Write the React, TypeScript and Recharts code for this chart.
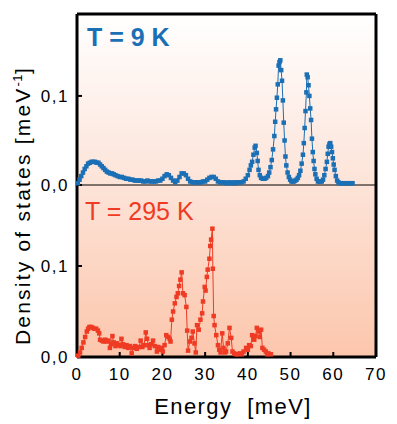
import React from 'react';
import { LineChart, Line, XAxis, YAxis, Label } from 'recharts';

// ---- Data ----
const energy9K = [
  0.2, 0.6, 1.0, 1.4, 1.8, 2.2, 2.6, 3.0, 3.4, 3.8, 4.2, 4.6, 5.0, 5.4, 5.8, 6.2, 6.6, 7.0, 7.4, 7.8,
  8.2, 8.6, 9.0, 9.5, 10.0, 10.5, 11.0, 11.5, 12.0, 12.5, 13.0, 13.5, 14.0, 14.5, 15.0, 15.5, 16.0,
  16.5, 17.0, 17.5, 18.0, 18.5, 19.0, 19.5, 20.0, 20.5, 21.0, 21.5, 22.0, 22.5, 23.0, 23.5, 24.0,
  24.5, 25.0, 25.5, 26.0, 26.5, 27.0, 27.5, 28.0, 28.5, 29.0, 29.5, 30.0, 30.5, 31.0, 31.5, 32.0,
  32.5, 33.0, 33.5, 34.0, 34.5, 35.0, 35.5, 36.0, 36.5, 37.0, 37.5, 38.0, 38.5, 39.0, 39.5, 40.0,
  40.4, 40.7, 41.0, 41.3, 41.6, 41.8, 42.1, 42.3, 42.5, 42.8, 43.1, 43.5, 43.9, 44.3, 44.7, 45.0,
  45.3, 45.6, 45.9, 46.2, 46.4, 46.6, 46.8, 47.0, 47.2, 47.4, 47.6, 47.8, 48.0, 48.2, 48.4, 48.6,
  48.8, 49.0, 49.3, 49.6, 49.9, 50.2, 50.5, 50.8, 51.1, 51.4, 51.7, 52.0, 52.3, 52.6, 52.9, 53.1,
  53.3, 53.5, 53.7, 53.8, 54.0, 54.2, 54.4, 54.6, 54.8, 55.0, 55.2, 55.4, 55.6, 55.8, 56.1, 56.4,
  56.7, 57.0, 57.3, 57.6, 57.9, 58.2, 58.5, 58.7, 58.9, 59.1, 59.3, 59.5, 59.7, 59.9, 60.1, 60.3,
  60.6, 60.9, 61.2, 61.6, 62.0, 62.5, 63.0, 63.5, 64.0, 64.5,
];
const dos9K = [
  0.002, 0.006, 0.010, 0.014, 0.018, 0.021, 0.024, 0.025, 0.026, 0.026, 0.026, 0.025, 0.025, 0.023,
  0.021, 0.019, 0.017, 0.015, 0.014, 0.013, 0.013, 0.012, 0.011, 0.010, 0.009, 0.009, 0.008, 0.007,
  0.007, 0.006, 0.006, 0.005, 0.005, 0.005, 0.005, 0.004, 0.004, 0.005, 0.004, 0.004, 0.004, 0.004,
  0.005, 0.005, 0.007, 0.010, 0.012, 0.011, 0.008, 0.005, 0.003, 0.005, 0.009, 0.013, 0.013, 0.011,
  0.007, 0.004, 0.003, 0.003, 0.003, 0.003, 0.003, 0.004, 0.004, 0.006, 0.008, 0.009, 0.009, 0.007,
  0.004, 0.003, 0.003, 0.003, 0.002, 0.003, 0.002, 0.003, 0.002, 0.003, 0.003, 0.003, 0.004, 0.007,
  0.011, 0.017, 0.022, 0.026, 0.034, 0.042, 0.044, 0.036, 0.027, 0.017, 0.011, 0.008, 0.007, 0.007,
  0.008, 0.010, 0.014, 0.020, 0.028, 0.040, 0.055, 0.071, 0.085, 0.098, 0.113, 0.134, 0.138, 0.140,
  0.129, 0.117, 0.095, 0.070, 0.050, 0.032, 0.022, 0.014, 0.009, 0.006, 0.004, 0.004, 0.004, 0.005,
  0.006, 0.008, 0.011, 0.016, 0.024, 0.034, 0.047, 0.064, 0.083, 0.104, 0.124, 0.121, 0.112, 0.100,
  0.086, 0.073, 0.052, 0.037, 0.027, 0.018, 0.012, 0.007, 0.004, 0.004, 0.004, 0.004, 0.006, 0.011,
  0.018, 0.026, 0.035, 0.043, 0.046, 0.047, 0.043, 0.037, 0.030, 0.023, 0.017, 0.010, 0.005, 0.003,
  0.002, 0.002, 0.002, 0.002, 0.002, 0.002, 0.002,
];

const energy295K = [
  0.3, 0.7, 1.1, 1.5, 1.9, 2.3, 2.6, 2.9, 3.3, 3.7, 4.1, 4.5, 4.9, 5.2, 5.4, 5.8, 6.2, 6.6, 7.0, 7.4,
  7.7, 8.0, 8.3, 8.6, 9.0, 9.4, 9.8, 10.2, 10.4, 10.8, 11.2, 11.6, 12.0, 12.4, 12.8, 13.2, 13.6, 14.0,
  14.5, 14.9, 15.3, 15.7, 16.1, 16.4, 16.7, 17.0, 17.4, 17.8, 18.2, 18.7, 19.0, 19.4, 19.8, 20.1,
  20.5, 20.9, 21.3, 21.7, 21.9, 22.2, 22.5, 22.9, 23.3, 23.6, 23.9, 24.2, 24.5, 24.8, 25.2, 25.6,
  25.8, 26.0, 26.4, 26.8, 27.1, 27.5, 27.8, 28.1, 28.5, 28.9, 29.3, 29.5, 29.9, 30.1, 30.4, 30.6,
  31.0, 31.2, 31.4, 31.7, 31.8, 32.0, 32.2, 32.6, 33.0, 33.3, 33.6, 34.0, 34.3, 34.6, 34.9, 35.3,
  35.7, 36.1, 36.4, 36.8, 37.2, 37.7, 38.1, 38.6, 39.0, 39.6, 40.0, 40.3, 40.7, 41.0, 41.3, 41.5,
  41.8, 42.1, 42.5, 42.8, 43.1, 43.4, 43.8, 44.2, 44.5, 44.8, 45.4,
];
const dos295K = [
  0.0015, 0.005, 0.010, 0.016, 0.022, 0.028, 0.031, 0.033, 0.033, 0.032, 0.031, 0.031, 0.029, 0.026,
  0.019, 0.018, 0.017, 0.019, 0.017, 0.018, 0.010, 0.014, 0.023, 0.016, 0.012, 0.015, 0.013, 0.012,
  0.020, 0.014, 0.011, 0.013, 0.010, 0.012, 0.004, 0.010, 0.012, 0.009, 0.011, 0.018, 0.011, 0.013,
  0.027, 0.020, 0.013, 0.010, 0.014, 0.018, 0.012, 0.006, 0.011, 0.008, 0.010, 0.006, 0.013, 0.024,
  0.022, 0.020, 0.017, 0.041, 0.050, 0.059, 0.066, 0.070, 0.078, 0.085, 0.093, 0.070, 0.068, 0.055,
  0.029, 0.007, 0.017, 0.021, 0.028, 0.015, 0.005, 0.035, 0.030, 0.041, 0.048, 0.061, 0.077, 0.073,
  0.088, 0.096, 0.108, 0.122, 0.129, 0.141, 0.097, 0.045, 0.035, 0.024, 0.013, 0.008, 0.005, 0.026,
  0.010, 0.005, 0.006, 0.015, 0.032, 0.021, 0.006, 0.004, 0.003, 0.003, 0.004, 0.003, 0.006, 0.010,
  0.008, 0.013, 0.012, 0.024, 0.020, 0.019, 0.023, 0.032, 0.028, 0.022, 0.030, 0.010, 0.008, 0.006,
  0.003, 0.004, 0.003,
];

const xMajorTicks = [0, 10, 20, 30, 40, 50, 60, 70];
const xMinorTicks = [
  0, 1, 2, 3, 4, 5, 6, 7, 8, 9, 10, 11, 12, 13, 14, 15, 16, 17, 18, 19, 20, 21, 22, 23, 24, 25, 26,
  27, 28, 29, 30, 31, 32, 33, 34, 35, 36, 37, 38, 39, 40, 41, 42, 43, 44, 45, 46, 47, 48, 49, 50, 51,
  52, 53, 54, 55, 56, 57, 58, 59, 60, 61, 62, 63, 64, 65, 66, 67, 68, 69, 70,
];
const yTicks = [0, 0.1];
const yInnerTicks = [0.1];

const BLUE = '#1b6fb5';
const RED = '#ef3b24';
const FONT = '"Liberation Sans", Arial, Helvetica, sans-serif';

const data9K = energy9K.map((e, i) => ({ e, v: dos9K[i] }));
const data295K = energy295K.map((e, i) => ({ e, v: dos295K[i] }));

const fmt = (v: number) => v.toFixed(1).replace('.', ',');

const squareDot = (color: string) => (p: any) => (
  <rect key={`d${p.index}`} x={p.cx - 2.25} y={p.cy - 2.25} width={4.5} height={4.5} fill={color} />
);

const axisBlack = { stroke: '#000', strokeWidth: 3 };
const tickBlack = { stroke: '#000', strokeWidth: 2 };
const tickFont = { fill: '#000', fontSize: 17, fontFamily: FONT, letterSpacing: 1.5 };

const YLabel = () => (
  <text
    transform="translate(30,345) rotate(-90)"
    textAnchor="start"
    fontSize={21}
    fontFamily={FONT}
    letterSpacing={2.2}
    fill="#000"
  >
    Density of states [meV
    <tspan dy={-8} fontSize={13} letterSpacing={0.5}>-1</tspan>
    <tspan dy={8}>]</tspan>
  </text>
);

const XLabel = () => (
  <text x={233} y={414} textAnchor="middle" fontSize={22} fontFamily={FONT} letterSpacing={1.4} fill="#000">
    Energy{'\u00a0\u00a0'}[meV]
  </text>
);

export default function App() {
  return (
    <div style={{ position: 'absolute', left: 0, top: 0, width: 397, height: 424, background: '#fff' }}>
      <div
        style={{
          position: 'absolute',
          left: 77,
          top: 14,
          width: 299,
          height: 343,
          background: 'linear-gradient(to bottom, #ffffff 0%, #fde6dc 45%, #fcc6ac 100%)',
        }}
      />
      {/* Bottom panel: T = 295 K */}
      <LineChart
        width={397}
        height={424}
        data={data295K}
        margin={{ top: 185, right: 20, bottom: 66, left: 76 }}
        style={{ position: 'absolute', left: 0, top: 0 }}
      >
        <XAxis
          xAxisId="b"
          dataKey="e"
          type="number"
          domain={[0, 70]}
          ticks={xMajorTicks}
          height={1}
          tickSize={-5}
          tickMargin={16}
          tick={tickFont}
          axisLine={axisBlack}
          tickLine={tickBlack}
          interval={0}
        >
          <Label content={XLabel} />
        </XAxis>
        <YAxis
          yAxisId="l"
          type="number"
          domain={[0, 0.189]}
          ticks={yTicks}
          width={1}
          tickSize={-5}
          tickMargin={13}
          tickFormatter={fmt}
          tick={tickFont}
          axisLine={axisBlack}
          tickLine={tickBlack}
          interval={0}
        >
          <Label content={YLabel} />
        </YAxis>
        <YAxis
          yAxisId="r"
          orientation="right"
          type="number"
          domain={[0, 0.189]}
          ticks={yInnerTicks}
          width={1}
          tickSize={-5}
          tick={false}
          axisLine={axisBlack}
          tickLine={tickBlack}
        />
        <Line
          xAxisId="b"
          yAxisId="l"
          dataKey="v"
          stroke={RED}
          strokeWidth={1}
          dot={squareDot(RED)}
          isAnimationActive={false}
        />
        <text x={85} y={220} fontSize={25} fontFamily={FONT} fill={RED}>
          T = 295 K
        </text>
      </LineChart>

      {/* Top panel: T = 9 K */}
      <LineChart
        width={397}
        height={424}
        data={data9K}
        margin={{ top: 13, right: 20, bottom: 237, left: 76 }}
        style={{ position: 'absolute', left: 0, top: 0 }}
      >
        <XAxis
          xAxisId="top"
          orientation="top"
          dataKey="e"
          type="number"
          domain={[0, 70]}
          ticks={xMajorTicks}
          height={1}
          tickSize={-5}
          tick={false}
          axisLine={axisBlack}
          tickLine={tickBlack}
          interval={0}
        />
        <XAxis
          xAxisId="div"
          dataKey="e"
          type="number"
          domain={[0, 70]}
          ticks={xMajorTicks}
          height={1}
          tickSize={5}
          tick={false}
          axisLine={{ stroke: '#000', strokeWidth: 1 }}
          tickLine={{ stroke: '#000', strokeWidth: 1.5 }}
          interval={0}
        />
        <XAxis
          xAxisId="minor"
          dataKey="e"
          type="number"
          domain={[0, 70]}
          ticks={xMinorTicks}
          height={1}
          tickSize={3}
          tick={false}
          axisLine={false}
          tickLine={{ stroke: '#000', strokeWidth: 1 }}
          interval={0}
        />
        <YAxis
          yAxisId="l"
          type="number"
          domain={[0, 0.192]}
          ticks={yTicks}
          width={1}
          tickSize={-5}
          tickMargin={13}
          tickFormatter={fmt}
          tick={tickFont}
          axisLine={axisBlack}
          tickLine={tickBlack}
          interval={0}
        />
        <YAxis
          yAxisId="r"
          orientation="right"
          type="number"
          domain={[0, 0.192]}
          ticks={yInnerTicks}
          width={1}
          tickSize={-5}
          tick={false}
          axisLine={axisBlack}
          tickLine={tickBlack}
        />
        <Line
          xAxisId="top"
          yAxisId="l"
          dataKey="v"
          stroke={BLUE}
          strokeWidth={1}
          dot={squareDot(BLUE)}
          isAnimationActive={false}
        />
        <text x={87} y={46} fontSize={25} fontWeight="bold" fontFamily={FONT} fill={BLUE}>
          T = 9 K
        </text>
      </LineChart>
    </div>
  );
}
